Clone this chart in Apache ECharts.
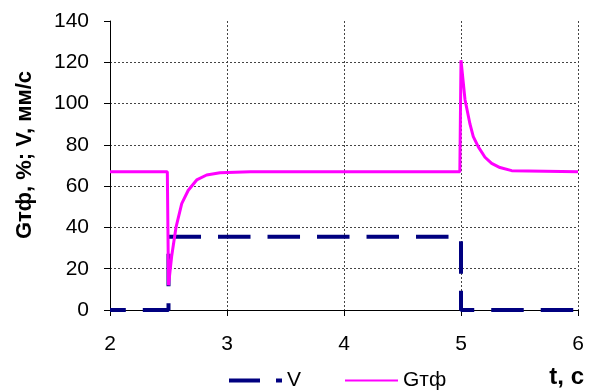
<!DOCTYPE html>
<html>
<head>
<meta charset="utf-8">
<script src="https://cdn.jsdelivr.net/npm/echarts@6/dist/echarts.min.js"></script>
<style>html,body{margin:0;padding:0;background:#fff}#c{width:592px;height:392px}</style>
</head>
<body>
<div id="c"></div>
<script>
// Gтф series (t, value)
const gTime  = [2, 2.49, 2.5, 2.527, 2.564, 2.613, 2.669, 2.741, 2.826, 2.94, 3.2, 4.99, 5.0, 5.034, 5.077, 5.105, 5.148, 5.205, 5.262, 5.333, 5.433, 6];
const gValue = [67, 67, 12, 26, 40, 51.5, 58, 63, 65.4, 66.5, 67, 67, 121, 102, 90, 84, 79, 74, 71, 69, 67.5, 67];
// V series (t, value)
const vTime  = [2, 2.5, 2.5, 5, 5, 6];
const vValue = [0, 0, 35.5, 35.5, 0, 0];
const xTicks = [2, 3, 4, 5, 6];
const yTicks = [0, 20, 40, 60, 80, 100, 120, 140];
const seriesNames = ['V', 'Gтф'];
const yTitle = 'Gтф, %; V, мм/с';
const xTitle = 't, c';

const zip = (a, b) => a.map((t, i) => [t, b[i]]);
const font = '"Liberation Sans", Arial, sans-serif';

const chart = echarts.init(document.getElementById('c'), null, {renderer: 'canvas'});
chart.setOption({
  animation: false,
  grid: {left: 110, right: 14, top: 21, bottom: 82},
  graphic: [
    {
      type: 'text', x: 25, y: 155, rotation: Math.PI / 2,
      style: {text: yTitle, font: 'bold 22px ' + font, fill: '#000', textAlign: 'center', textVerticalAlign: 'middle'}
    },
    {
      type: 'text', x: 584, y: 377,
      style: {text: xTitle, font: 'bold 24px ' + font, fill: '#000', textAlign: 'right', textVerticalAlign: 'middle'}
    }
  ],
  legend: {
    left: 224, top: 365, itemGap: 43, itemWidth: 53, itemHeight: 4,
    itemStyle: {opacity: 0},
    data: [
      {name: seriesNames[0], icon: 'path://M0,0h31v4h-31zM47,0h6v4h-6z', itemStyle: {opacity: 1, color: '#000080'}},
      {name: seriesNames[1]}
    ],
    textStyle: {fontFamily: font, fontSize: 21, color: '#000'}
  },
  xAxis: {
    type: 'value', min: xTicks[0], max: xTicks[xTicks.length - 1], interval: 1,
    axisLine: {lineStyle: {color: '#000', width: 1}},
    axisTick: {show: true, length: 6, lineStyle: {color: '#000'}},
    axisLabel: {fontFamily: font, fontSize: 21, color: '#000', margin: 24},
    splitLine: {show: true, showMinLine: false, lineStyle: {color: '#444', type: [2, 2], width: 1}}
  },
  yAxis: {
    type: 'value', min: yTicks[0], max: yTicks[yTicks.length - 1], interval: 20,
    axisLine: {show: true, lineStyle: {color: '#000', width: 1}},
    axisTick: {show: true, length: 6, lineStyle: {color: '#000'}},
    axisLabel: {fontFamily: font, fontSize: 21, color: '#000', margin: 21},
    splitLine: {show: true, showMaxLine: false, showMinLine: false, lineStyle: {color: '#444', type: [2, 2], width: 1}}
  },
  series: [
    {
      name: seriesNames[0], type: 'line', data: zip(vTime, vValue), symbol: 'none',
      lineStyle: {color: '#000080', width: 4, type: [32.5, 17], dashOffset: 16.7, cap: 'butt'},
      itemStyle: {color: '#000080'}, z: 2
    },
    {
      name: seriesNames[1], type: 'line', data: zip(gTime, gValue), symbol: 'none',
      lineStyle: {color: '#ff00ff', width: 3},
      itemStyle: {color: '#ff00ff'}, z: 3
    }
  ]
});
</script>
</body>
</html>
